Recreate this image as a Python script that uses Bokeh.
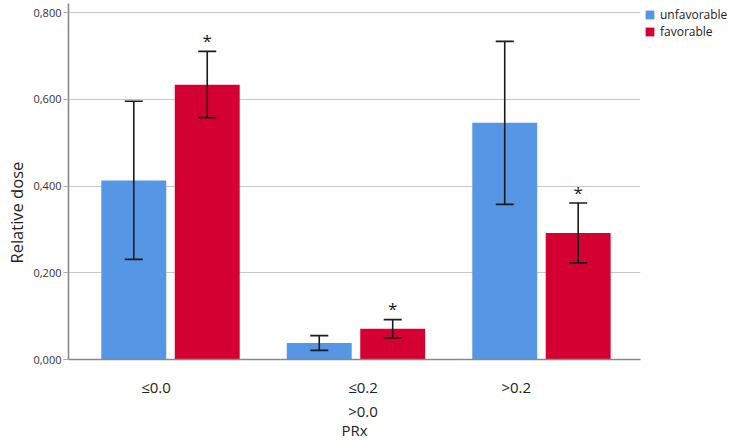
from bokeh.plotting import figure
from bokeh.models import (ColumnDataSource, Range1d, FixedTicker, Whisker, TeeHead,
                          Legend, LegendItem, Title)
from bokeh.core.properties import value
from bokeh.embed import file_html
from bokeh.resources import INLINE

# ---- data ----
categories = ["≤0.0", "≤0.2\n>0.0", ">0.2"]
unfavorable = [0.413, 0.038, 0.546]
unfavorable_lo = [0.231, 0.021, 0.358]
unfavorable_hi = [0.596, 0.055, 0.734]
favorable = [0.634, 0.071, 0.292]
favorable_lo = [0.558, 0.050, 0.223]
favorable_hi = [0.711, 0.092, 0.361]
favorable_marks = ["*", "*", "*"]
y_ticks = [0.0, 0.2, 0.4, 0.6, 0.8]
y_tick_labels = ["0,000", "0,200", "0,400", "0,600", "0,800"]

# ---- layout constants ----
BLUE = "#5596E5"
RED = "#D50032"
DODGE = 0.198
BAR_W = 0.35
LABEL_SHIFT = [-0.078, 0.038, -0.136]
FONT = "Open Sans"
INK = "#1a1a1a"
FRAME_H = 356

groups = [i + 1 for i in range(len(categories))]
x_unf = [g - DODGE for g in groups]
x_fav = [g + DODGE for g in groups]

src_u = ColumnDataSource(dict(x=x_unf, top=unfavorable, lo=unfavorable_lo, hi=unfavorable_hi))
src_f = ColumnDataSource(dict(x=x_fav, top=favorable, lo=favorable_lo, hi=favorable_hi,
                              mark=favorable_marks))

p = figure(frame_width=572, frame_height=FRAME_H, output_backend="svg", toolbar_location=None,
           x_range=Range1d(0.45, 3.534), y_range=Range1d(0, 0.8214),
           min_border_left=68, min_border_right=89, min_border_top=3, min_border_bottom=81)
p.outline_line_color = None

r_u = p.vbar(x="x", top="top", width=BAR_W, source=src_u, fill_color=BLUE, line_color=None)
r_f = p.vbar(x="x", top="top", width=BAR_W, source=src_f, fill_color=RED, line_color=None)

for src in (src_u, src_f):
    w = Whisker(base="x", upper="hi", lower="lo", source=src, level="overlay",
                line_color=INK, line_width=1.6,
                upper_head=TeeHead(size=18, line_color=INK, line_width=1.6),
                lower_head=TeeHead(size=18, line_color=INK, line_width=1.6))
    p.add_layout(w)

p.text(x="x", y="hi", text="mark", source=src_f, text_align="center",
       text_baseline="alphabetic", text_font=value(FONT), text_font_size="17px",
       text_color=INK, y_offset=-11)

# axes
p.yaxis.ticker = FixedTicker(ticks=y_ticks)
p.yaxis.major_label_overrides = {t: l for t, l in zip(y_ticks, y_tick_labels)}
p.yaxis.major_label_text_font = FONT
p.yaxis.major_label_text_font_size = "11px"
p.yaxis.major_label_text_color = "#333333"
p.yaxis.major_label_standoff = 2
p.yaxis.major_tick_out = 5
p.yaxis.major_tick_in = 0
p.yaxis.minor_tick_out = 0
p.yaxis.minor_tick_in = 0
p.yaxis.axis_line_color = "#8a8a8a"
p.yaxis.axis_line_width = 1.6
p.yaxis.major_tick_line_color = "#aaaaaa"

ytitle = Title(text="Relative dose", align="left", offset=96, standoff=5,
               text_font=FONT, text_font_style="normal", text_font_size="16.5px",
               text_color="#222222")
p.add_layout(ytitle, "left")

x_ticks = [g + s for g, s in zip(groups, LABEL_SHIFT)]
p.xaxis.ticker = FixedTicker(ticks=x_ticks)
p.xaxis.major_label_overrides = {t: l for t, l in zip(x_ticks, categories)}
p.xaxis.axis_label = "PRx"
p.xaxis.axis_label_text_font = FONT
p.xaxis.axis_label_text_font_style = "normal"
p.xaxis.axis_label_text_font_size = "15px"
p.xaxis.axis_label_text_color = "#222222"
p.xaxis.axis_label_standoff = -4
p.xaxis.major_label_text_font = FONT
p.xaxis.major_label_text_font_size = "15px"
p.xaxis.major_label_text_color = "#222222"
p.xaxis.major_label_standoff = 17
p.xaxis.major_tick_out = 0
p.xaxis.major_tick_in = 0
p.xaxis.minor_tick_out = 0
p.xaxis.minor_tick_in = 0
p.xaxis.axis_line_color = "#8a8a8a"
p.xaxis.axis_line_width = 1.6

p.xgrid.visible = False
p.ygrid.ticker = FixedTicker(ticks=y_ticks[1:])
p.ygrid.grid_line_color = "#c8c8c8"
p.ygrid.grid_line_width = 1.2

legend = Legend(items=[LegendItem(label="unfavorable", renderers=[r_u]),
                       LegendItem(label="favorable", renderers=[r_f])],
                location=(4, FRAME_H - 37), margin=0, padding=0, spacing=0,
                glyph_width=11, glyph_height=11, label_standoff=5,
                label_text_font=FONT, label_text_font_size="12px",
                label_text_color="#222222", border_line_color=None,
                background_fill_alpha=0)
p.add_layout(legend, "right")

open("out.html", "w").write(file_html(p, INLINE))
